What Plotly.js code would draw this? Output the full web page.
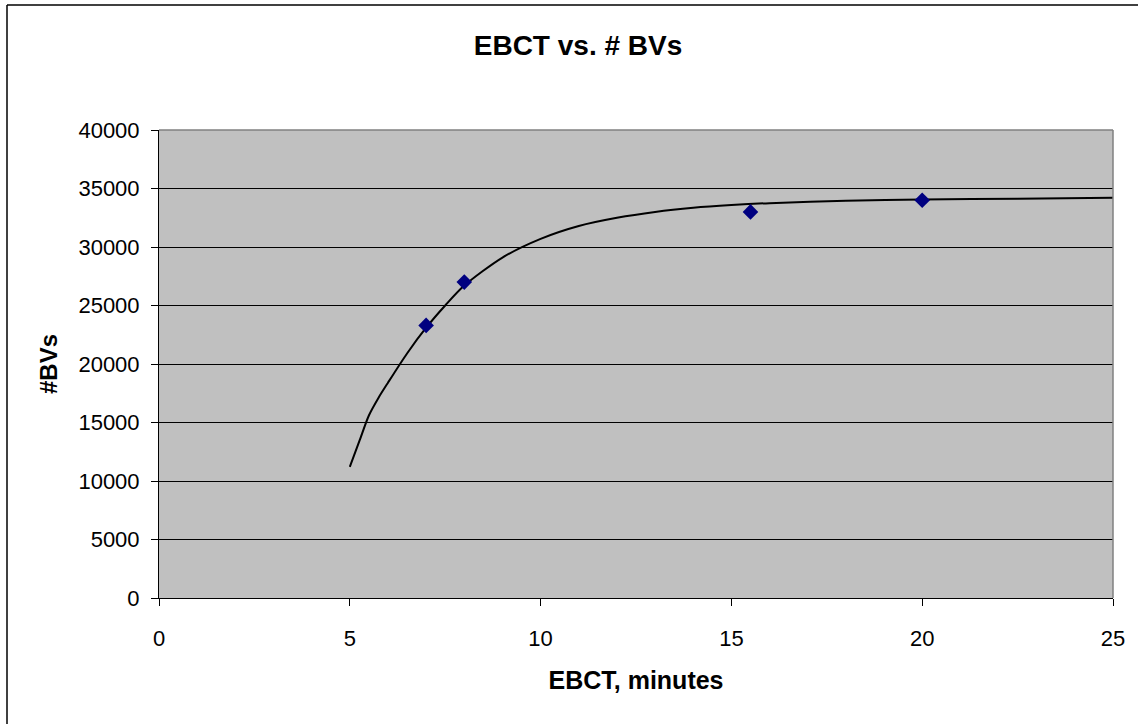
<!DOCTYPE html>
<html>
<head>
<meta charset="utf-8">
<script src="https://cdn.plot.ly/plotly-3.0.1.min.js"></script>
<style>html,body{margin:0;padding:0;background:#fff;}#chart{width:1138px;height:724px;}</style>
</head>
<body>
<div id="chart"></div>
<script>
// Measured data points
const ebct = [7, 8, 15.5, 20];
const bvs = [23300, 27000, 33000, 34000];

// Trend curve
const curveX = [5, 5.25, 5.5, 5.75, 6, 6.5, 7, 7.5, 8, 9, 10, 11, 12, 13, 14, 15, 16, 18, 20, 22.5, 25];
const curveY = [11200, 13400, 15600, 17100, 18400, 20900, 23100, 25000, 26700, 29100, 30700, 31800, 32500, 33000, 33350, 33580, 33750, 33950, 34050, 34130, 34200];

const yTicks = [0, 5000, 10000, 15000, 20000, 25000, 30000, 35000, 40000];
const xTicks = [0, 5, 10, 15, 20, 25];

const L = 159, R = 1113, T = 130, B = 598;
const px = v => (v - L) / (R - L);
const py = v => (B - v) / (B - T);

const traces = [
  {
    x: curveX, y: curveY, type: 'scatter', mode: 'lines',
    line: {color: '#000000', width: 2, shape: 'spline', smoothing: 0.8},
    hoverinfo: 'skip', showlegend: false
  },
  {
    x: ebct, y: bvs, type: 'scatter', mode: 'markers',
    marker: {symbol: 'diamond', size: 12, color: '#000080', line: {width: 0}},
    showlegend: false
  }
];

const FAM = 'Liberation Sans, Arial, sans-serif';
const tickFont = {family: FAM, color: '#000000', size: 22};

const layout = {
  width: 1138, height: 724,
  margin: {l: L, r: 1138 - R, t: T, b: 724 - B, pad: 0},
  paper_bgcolor: '#ffffff',
  plot_bgcolor: '#c0c0c0',
  font: {family: FAM, color: '#000', size: 22},
  showlegend: false,
  title: {
    text: '<b>EBCT vs. # BVs</b>',
    font: {family: FAM, size: 28, color: '#000'},
    x: 578 / 1138, xref: 'container', xanchor: 'center',
    y: 1 - 45 / 724, yref: 'container', yanchor: 'middle'
  },
  xaxis: {
    range: [0, 25], tickvals: xTicks, ticktext: xTicks.map(String),
    showgrid: false, zeroline: false,
    showline: true, linecolor: '#000000', linewidth: 1,
    ticks: 'outside', ticklen: 7, tickcolor: '#000', tickwidth: 1,
    ticklabelstandoff: 14,
    tickfont: tickFont,
    title: {text: '<b>EBCT, minutes</b>', font: {family: FAM, size: 25, color: '#000'}, standoff: 21}
  },
  yaxis: {
    range: [0, 40000], tickvals: yTicks, ticktext: yTicks.map(String),
    showgrid: true, gridcolor: '#000000', gridwidth: 1,
    zeroline: false,
    showline: true, linecolor: '#000000', linewidth: 1,
    ticks: 'outside', ticklen: 7, tickcolor: '#000', tickwidth: 1,
    ticklabelstandoff: 7,
    tickfont: tickFont,
    title: {text: '<b>#BVs</b>', font: {family: FAM, size: 24, color: '#000'}, standoff: 14}
  },
  shapes: [
    {type: 'line', xref: 'paper', yref: 'paper', x0: 1, x1: 1, y0: 0, y1: 1, line: {color: '#808080', width: 1.5}, layer: 'above'},
    {type: 'line', xref: 'paper', yref: 'paper', x0: 0, x1: 1, y0: 1, y1: 1, line: {color: '#808080', width: 1.5}, layer: 'above'},
    {type: 'line', xref: 'paper', yref: 'paper', x0: px(7), x1: px(7), y0: py(5), y1: py(740), line: {color: '#000000', width: 1.5}},
    {type: 'line', xref: 'paper', yref: 'paper', x0: px(7), x1: px(1150), y0: py(5), y1: py(5), line: {color: '#000000', width: 1.5}}
  ]
};

Plotly.newPlot('chart', traces, layout, {displayModeBar: false, staticPlot: true});
</script>
</body>
</html>
